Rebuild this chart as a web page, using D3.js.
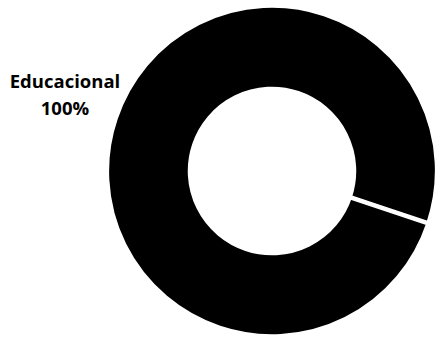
<!DOCTYPE html>
<html>
<head>
<meta charset="utf-8">
<script src="https://cdn.jsdelivr.net/npm/d3@7"></script>
<style>
  body { margin: 0; background: #fff; }
  svg { display: block; }
  .lbl { font-family: 'Open Sans', sans-serif; font-weight: bold; font-size: 18.5px; fill: #000; }
</style>
</head>
<body>
<script>
var categories = ['Educacional']
var values = [100]
var labels = ['100%']

var width = 436, height = 337
var cx = 272, cy = 171

var svg = d3.select('body').append('svg')
  .attr('width', width)
  .attr('height', height)

var data = categories.map(function(d, i){ return {name: d, value: values[i], label: labels[i]} })

// first slice starts a bit below 3 o'clock, like the original
var start = 108.5 * Math.PI / 180
var pie = d3.pie()
  .sort(null)
  .value(function(d){ return d.value })
  .startAngle(start)
  .endAngle(start + 2 * Math.PI - 1e-6)

var arc = d3.arc().innerRadius(82).outerRadius(165)

var g = svg.append('g').attr('transform', 'translate(' + cx + ',' + cy + ')')

g.selectAll('path')
  .data(pie(data))
  .enter().append('path')
  .attr('d', arc)
  .attr('fill', '#000')
  .attr('stroke', '#fff')
  .attr('stroke-width', 4.5)
  .attr('stroke-linejoin', 'miter')

var lbl = svg.append('text')
  .attr('class', 'lbl')
  .attr('text-anchor', 'middle')
  .attr('x', 65)
  .attr('y', 87.5)

lbl.append('tspan').attr('x', 65).text(data[0].name)
lbl.append('tspan').attr('x', 65).attr('dy', 27).text(data[0].label)
</script>
</body>
</html>
